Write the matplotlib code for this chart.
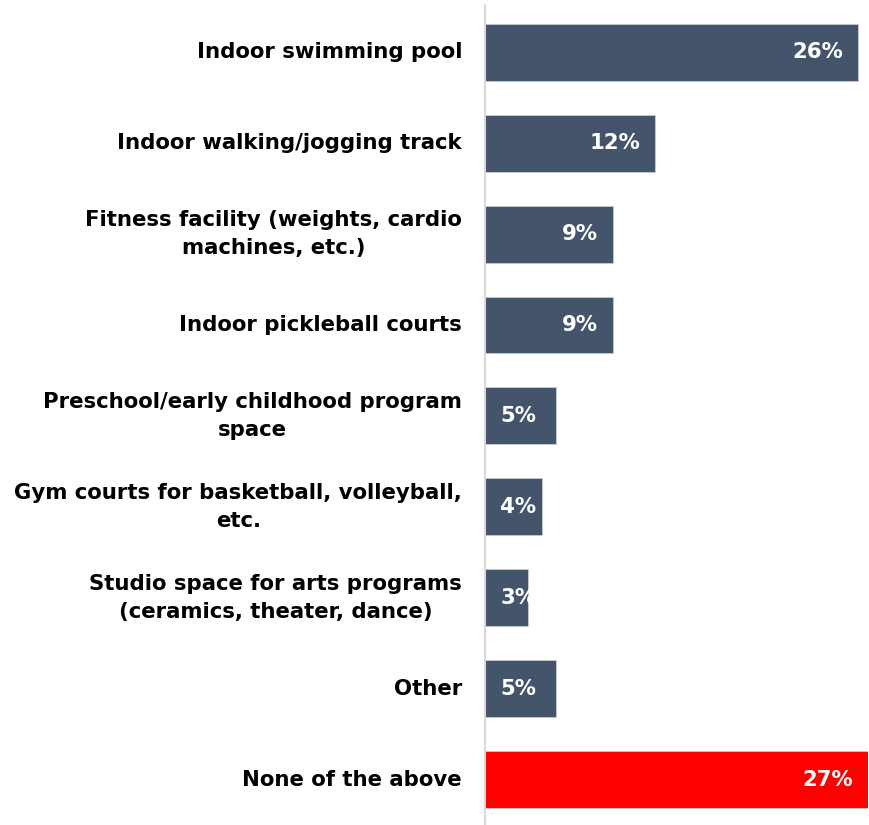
import matplotlib
matplotlib.use("Agg")
import matplotlib.pyplot as plt

# categories and values (percent of respondents)
labels = [
    "Indoor swimming pool",
    "Indoor walking/jogging track",
    "Fitness facility (weights, cardio\nmachines, etc.)",
    "Indoor pickleball courts",
    "Preschool/early childhood program\nspace",
    "Gym courts for basketball, volleyball,\netc.",
    "Studio space for arts programs\n(ceramics, theater, dance)",
    "Other",
    "None of the above",
]
values = [26.3, 12.0, 9.0, 9.0, 5.0, 4.0, 3.0, 5.0, 27.0]
colors = ["#44546A"] * 8 + ["#FF0000"]

plt.rcParams["font.family"] = ["DejaVu Sans"]
plt.rcParams["font.weight"] = "bold"

fig = plt.figure(figsize=(8.69, 8.25), dpi=100)
ax = fig.add_axes([485 / 869, 0, 383 / 869, 820 / 825])

y = list(range(len(labels)))
ax.barh(y, values, height=0.626, color=colors, edgecolor="#c8ccd2", linewidth=0.6)

ax.set_xlim(0, 27.0)
ax.set_ylim(8.5, -0.52)

ax.set_yticks(y)
ax.set_yticklabels(labels, fontsize=15.3, fontweight="bold",
                   multialignment="center", linespacing=1.5)
for t in ax.get_yticklabels():
    t.set_va("center")
ax.tick_params(axis="y", length=0, pad=16.5)
ax.set_xticks([])

for s in ["top", "right", "bottom"]:
    ax.spines[s].set_visible(False)
ax.spines["left"].set_color("#d9d9d9")
ax.spines["left"].set_linewidth(1.5)

# value labels inside the bar end
for yi, v in zip(y, values):
    txt = f"{round(v)}%"
    if v >= 8:
        ax.annotate(txt, (v, yi), xytext=(-11, 0), textcoords="offset points",
                    ha="right", va="center", color="white", fontsize=15.3, fontweight="bold")
    else:
        ax.annotate(txt, (0, yi), xytext=(11, 0), textcoords="offset points",
                    ha="left", va="center", color="white", fontsize=15.3, fontweight="bold")

fig.savefig("out.png", dpi=100)
